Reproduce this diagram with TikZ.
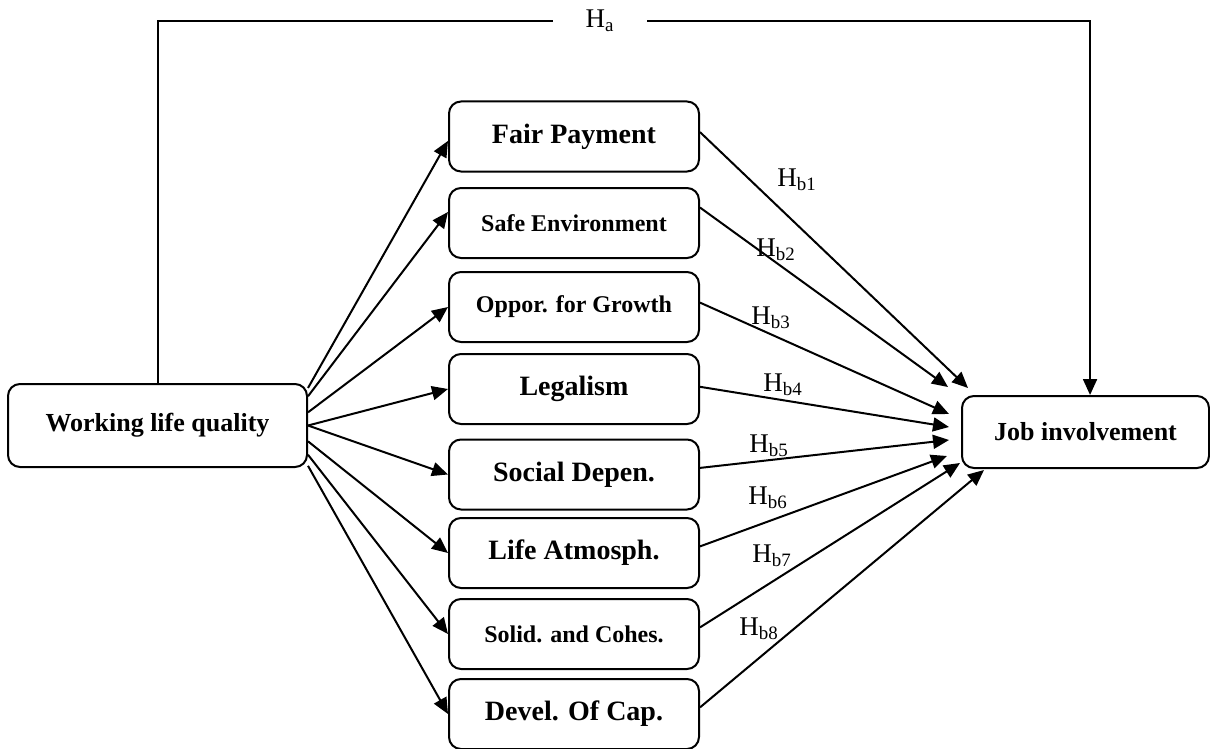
\documentclass[tikz,border=0pt]{standalone}
\usepackage{fontspec}
\setmainfont{Liberation Serif}
\usetikzlibrary{calc,arrows.meta}

\tikzset{
  box/.style={draw, rounded corners=6pt, line width=1pt, minimum width=125pt,
    minimum height=35pt, inner sep=0pt, font=\bfseries\fontsize{14}{16}\selectfont},
  smallbox/.style={box, font=\bfseries\fontsize{12}{14}\selectfont},
  endbox/.style={box, font=\bfseries\fontsize{13}{15}\selectfont},
  link/.style={line width=1pt, -{Triangle[length=8pt,width=7pt]}},
  hyp/.style={inner sep=0pt, font=\fontsize{13.5}{15}\selectfont}
}

\begin{document}
\begin{tikzpicture}[x=0.5pt,y=-0.5pt]
      \useasboundingbox (0,0) rectangle (1210,749);

      \node [endbox, minimum width=149.5pt, minimum height=41.5pt] (wlq) at (157.5,425.5) {Working life quality};
      \node [endbox, minimum width=123.5pt, minimum height=36pt] (job) at (1085.5,432) {Job involvement};

      \node [box] (fair) at (574,136.5) {Fair Payment};
      \node [smallbox] (safe) at (574,223) {Safe Environment};
      \node [smallbox] (oppor) at (574,307) {Oppor. for Growth};
      \node [box] (legal) at (574,389) {Legalism};
      \node [box] (social) at (574,474.5) {Social Depen.};
      \node [box] (life) at (574,553) {Life Atmosph.};
      \node [smallbox] (solid) at (574,634) {Solid. and Cohes.};
      \node [box] (devel) at (574,714) {Devel. Of Cap.};

      \coordinate (e1) at (968,388);
      \coordinate (e2) at (948,387);
      \coordinate (e3) at (949,414);
      \coordinate (e4) at (949,427);
      \coordinate (e5) at (949,440);
      \coordinate (e6) at (947,456);
      \coordinate (e7) at (960,463);
      \coordinate (e8) at (984,470);

      \foreach \a/\n in {14/fair.182, 11/safe.175, 5/oppor.west, 0/legal.west,
                         0/social.west, -6/life.west, -11/solid.west, -15/devel.west}
               {
                 \draw [link] (wlq.\a) -- (\n);
               }

      \foreach \n/\o [count=\i] in {fair/2, safe/7, oppor/2, legal/1,
                                    social/3, life/3, solid/3, devel/3}
               {
                 \draw [link] (\n.\o) -- (e\i);
               }

      \node [hyp] (hb1) at (797,180) {H\textsubscript{b1}};
      \node [hyp] (hb2) at (776,250) {H\textsubscript{b2}};
      \node [hyp] (hb3) at (771,318) {H\textsubscript{b3}};
      \node [hyp] (hb4) at (783,385) {H\textsubscript{b4}};
      \node [hyp] (hb5) at (769,446) {H\textsubscript{b5}};
      \node [hyp] (hb6) at (768,498) {H\textsubscript{b6}};
      \node [hyp] (hb7) at (772,556) {H\textsubscript{b7}};
      \node [hyp] (hb8) at (759,629) {H\textsubscript{b8}};

      \node [hyp, minimum width=47pt] (ha) at (600,21) {H\textsubscript{a}};
      \draw [line width=1pt] (wlq.north) |- (ha.west);
      \draw [link] (ha.east) -| (job.83);
    \end{tikzpicture}
\end{document}
